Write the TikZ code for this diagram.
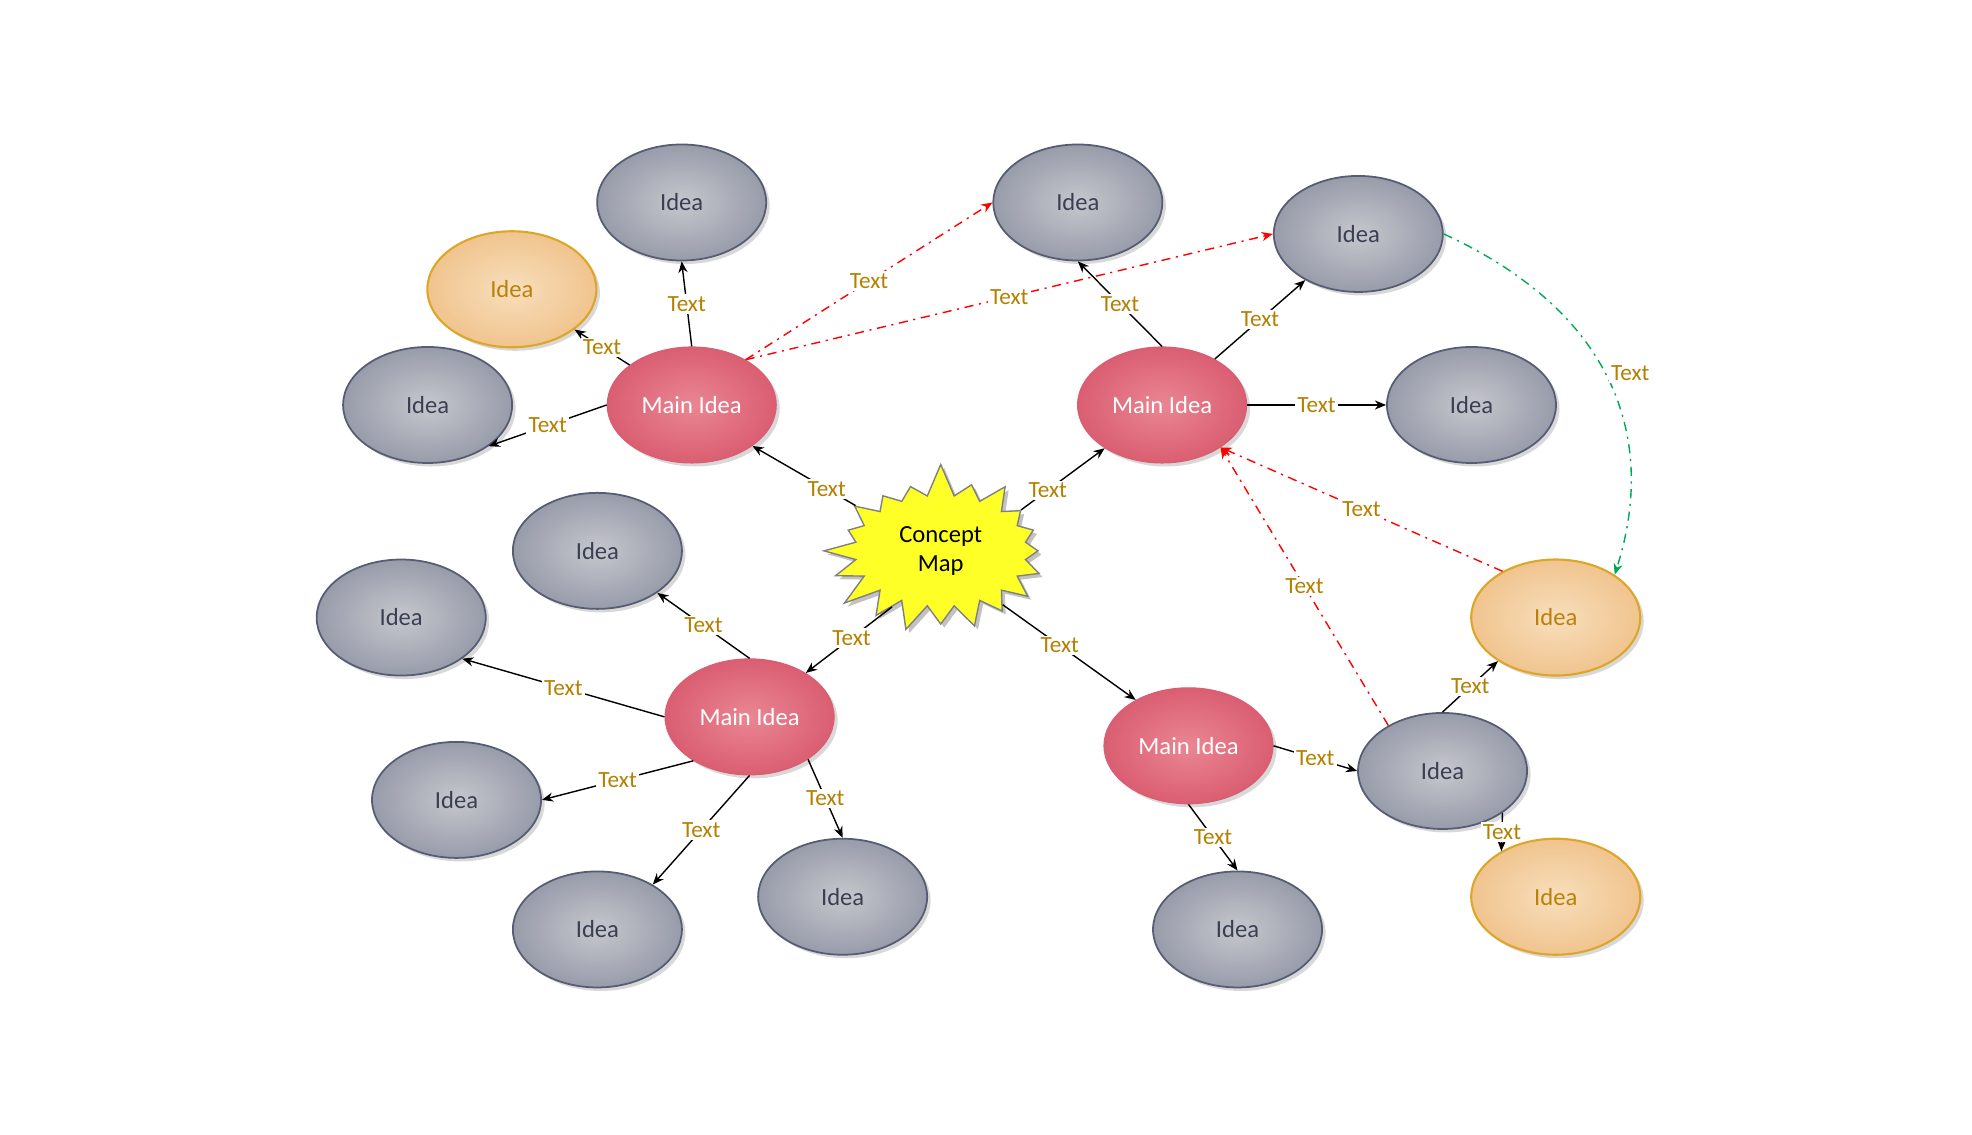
\documentclass[tikz,border=0pt]{standalone}
\usepackage{fontspec}
\setmainfont{Carlito}
\usepackage{tikz}
\usetikzlibrary{arrows.meta, positioning, shapes.geometric, shapes.symbols, shadows}
\usepackage{xcolor}
\definecolor{ideaIn}{RGB}{198,199,205}
\definecolor{ideaOut}{RGB}{152,156,170}
\definecolor{ideaLine}{RGB}{86,92,114}
\definecolor{ideaText}{RGB}{58,64,84}
\definecolor{mainIn}{RGB}{234,134,146}
\definecolor{mainOut}{RGB}{218,94,114}
\definecolor{hotIn}{RGB}{248,222,188}
\definecolor{hotOut}{RGB}{240,196,142}
\definecolor{hotLine}{RGB}{222,166,40}
\definecolor{hotText}{RGB}{184,130,10}
\definecolor{lblText}{RGB}{180,128,0}
\definecolor{starFill}{RGB}{255,255,40}
\definecolor{linkGreen}{RGB}{0,168,84}

\begin{document}
\begin{tikzpicture}[x=0.012577cm, y=-0.012577cm,
  bubble/.style={ellipse, minimum width=1.69cm, minimum height=1.16cm, inner sep=0pt,
    font=\fontsize{7}{8}\selectfont,
    drop shadow={shadow xshift=1pt, shadow yshift=-1pt, fill=black!30, opacity=0.5}},
  idea/.style={bubble, draw=ideaLine, line width=0.5pt, inner color=ideaIn, outer color=ideaOut, text=ideaText},
  mainidea/.style={bubble, draw=mainOut, line width=0.3pt, inner color=mainIn, outer color=mainOut, text=white},
  hot/.style={bubble, draw=hotLine, line width=0.6pt, inner color=hotIn, outer color=hotOut, text=hotText},
  link/.style={line width=0.4pt, -{Stealth[length=3.2pt, width=2.6pt]}},
  redlink/.style={link, red, dash pattern=on 2.6pt off 1.6pt on 0.6pt off 1.6pt},
  greenlink/.style={link, linkGreen, dash pattern=on 2.6pt off 1.6pt on 0.6pt off 1.6pt},
  lbl/.style={fill=white, inner sep=0.6pt, text=lblText, font=\fontsize{6.6}{7}\selectfont}
]
\useasboundingbox (0,0) rectangle (1568,902);

\node[starburst, starburst points=20, starburst point height=0.34cm, random starburst=7,
  draw=black!50, fill=starFill, align=center, font=\fontsize{7}{8.3}\selectfont,
  inner xsep=5.5pt, inner ysep=4.2pt,
  drop shadow={shadow xshift=1pt, shadow yshift=-1pt, fill=black!40, opacity=0.6}] (star) at (748,438) {Concept\\Map};

\node[mainidea] (m1) at (550,322) {Main Idea};
\node[mainidea] (m2) at (924,322) {Main Idea};
\node[mainidea] (m3) at (596,570) {Main Idea};
\node[mainidea] (m4) at (945,593) {Main Idea};

\node[idea] (a1) at (542,161) {Idea};
\node[hot]  (o1) at (407,230) {Idea};
\node[idea] (a2) at (340,322) {Idea};

\node[idea] (b1) at (857,161) {Idea};
\node[idea] (b2) at (1080,186) {Idea};
\node[idea] (b3) at (1170,322) {Idea};
\node[hot]  (o2) at (1237,491) {Idea};

\node[idea] (c1) at (475,438) {Idea};
\node[idea] (c2) at (319,491) {Idea};
\node[idea] (c3) at (363,636) {Idea};
\node[idea] (c4) at (475,739) {Idea};
\node[idea] (c5) at (670,713) {Idea};

\node[idea] (d1) at (984,739) {Idea};
\node[idea] (d2) at (1147,613) {Idea};
\node[hot]  (o3) at (1237,713) {Idea};

\draw[link] (star.152) -- node[lbl, pos=0.28]{Text} (m1.-34);
\draw[link] (star.27) -- node[lbl, pos=0.32]{Text} (m2.217);
\draw[link] (star.229) -- node[lbl, pos=0.47]{Text} (m3.38);
\draw[link] (star.-41) -- node[lbl, pos=0.43]{Text} (m4.139);

\draw[link] (m1.north) -- node[lbl]{Text} (a1.south);
\draw[link] (m1) -- node[lbl]{Text} (o1);
\draw[link] (m1.west) -- node[lbl]{Text} (a2.-34);
\draw[redlink] (m1.40) -- node[lbl]{Text} (b1.west);
\draw[redlink] (m1.40) -- node[lbl]{Text} (b2.west);

\draw[link] (m2.north) -- node[lbl]{Text} (b1.south);
\draw[link] (m2) -- node[lbl]{Text} (b2);
\draw[link] (m2) -- node[lbl]{Text} (b3);
\draw[greenlink] (b2.east) .. controls (1285,249) and (1318,350) .. node[lbl, pos=0.47, right=1pt]{Text} (o2.36);
\draw[redlink] (o2.139) -- node[lbl]{Text} (m2.-36);
\draw[redlink] (d2.140) -- node[lbl]{Text} (m2.-36);

\draw[link] (m3.north) -- node[lbl]{Text} (c1.-35);
\draw[link] (m3.west) -- node[lbl]{Text} (c2.-34);
\draw[link] (m3.218) -- node[lbl]{Text} (c3.east);
\draw[link] (m3.south) -- node[lbl]{Text} (c4.39);
\draw[link] (m3.-36) -- node[lbl]{Text} (c5.north);

\draw[link] (m4.south) -- node[lbl]{Text} (d1.north);
\draw[link] (m4.east) -- node[lbl]{Text} (d2.west);
\draw[link] (d2.north) -- node[lbl]{Text} (o2.217);
\draw[link] (d2.-35) -- node[lbl]{Text} (o3.140);
\end{tikzpicture}
\end{document}
